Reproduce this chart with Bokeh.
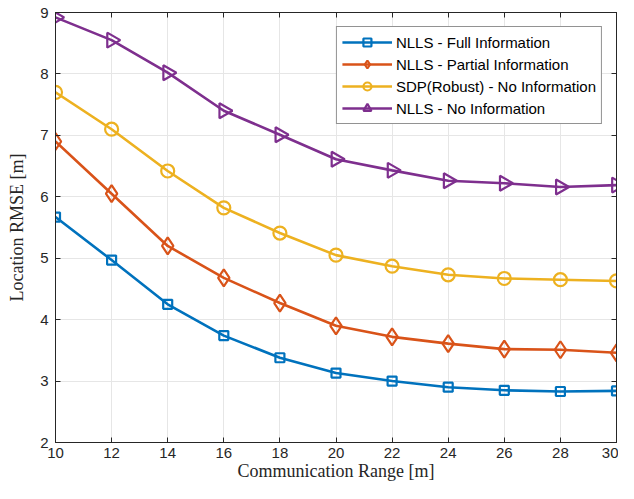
import numpy as np
from bokeh.plotting import figure
from bokeh.models import LinearAxis, Range1d, FixedTicker, Legend
from bokeh.embed import file_html
from bokeh.resources import INLINE

x_range_vals = [10, 12, 14, 16, 18, 20, 22, 24, 26, 28, 30]
full_info = [5.67, 4.97, 4.25, 3.74, 3.38, 3.13, 3.00, 2.90, 2.85, 2.83, 2.84]
partial_info = [6.90, 6.05, 5.20, 4.68, 4.27, 3.90, 3.72, 3.61, 3.52, 3.51, 3.46]
sdp_no_info = [7.70, 7.10, 6.42, 5.82, 5.41, 5.05, 4.87, 4.73, 4.67, 4.65, 4.63]
nlls_no_info = [8.92, 8.55, 8.02, 7.40, 7.01, 6.61, 6.43, 6.26, 6.22, 6.16, 6.19]

x_ticks = [10, 12, 14, 16, 18, 20, 22, 24, 26, 28, 30]
y_ticks = [2, 3, 4, 5, 6, 7, 8, 9]

p = figure(width=618, height=483, output_backend="svg", toolbar_location=None,
           x_range=Range1d(10, 30), y_range=Range1d(2, 9),
           min_border_left=55, min_border_right=2, min_border_top=12, min_border_bottom=38)
p.background_fill_color = "white"
p.outline_line_color = "#262626"
p.outline_line_width = 1

for ax in (p.xaxis[0], p.yaxis[0]):
    ax.major_tick_in = 5
    ax.major_tick_out = 0
    ax.minor_tick_in = 0
    ax.minor_tick_out = 0
    ax.axis_line_color = "#262626"
    ax.major_tick_line_color = "#262626"
    ax.major_label_text_font = "Liberation Sans"
    ax.major_label_text_font_size = "15px"
    ax.major_label_text_color = "#262626"
    ax.axis_label_text_font = "Liberation Serif"
    ax.axis_label_text_font_style = "normal"
    ax.axis_label_text_font_size = "18px"
    ax.axis_label_text_color = "#262626"

p.xaxis[0].ticker = FixedTicker(ticks=x_ticks)
p.yaxis[0].ticker = FixedTicker(ticks=y_ticks)
p.xaxis[0].axis_label = "Communication Range [m]"
p.yaxis[0].axis_label = "Location RMSE [m]"
p.xaxis[0].major_label_standoff = 5
p.xaxis[0].axis_label_standoff = 0
p.yaxis[0].major_label_standoff = 7
p.yaxis[0].axis_label_standoff = 10

p.xgrid.ticker = FixedTicker(ticks=x_ticks)
p.ygrid.ticker = FixedTicker(ticks=y_ticks)
p.xgrid.grid_line_color = "#e6e6e6"
p.ygrid.grid_line_color = "#e6e6e6"
p.xgrid.grid_line_width = 1
p.ygrid.grid_line_width = 1

# top and right axes (ticks only)
top = LinearAxis(ticker=FixedTicker(ticks=x_ticks), major_label_text_font_size="0px",
                 major_tick_in=5, major_tick_out=0, minor_tick_in=0, minor_tick_out=0,
                 axis_line_color="#262626", major_tick_line_color="#262626")
right = LinearAxis(ticker=FixedTicker(ticks=y_ticks), major_label_text_font_size="0px",
                   major_tick_in=5, major_tick_out=0, minor_tick_in=0, minor_tick_out=0,
                   axis_line_color="#262626", major_tick_line_color="#262626")
top.major_label_standoff = 0
right.major_label_standoff = 0
p.add_layout(top, "above")
p.add_layout(right, "right")

series = [
    ("NLLS - Full Information", full_info, "#0072BD", "square", 9, 0.0),
    ("NLLS - Partial Information", partial_info, "#D95319", "diamond", 17, 0.0),
    ("SDP(Robust) - No Information", sdp_no_info, "#EDB120", "circle", 13, 0.0),
    ("NLLS - No Information", nlls_no_info, "#7E2F8E", "triangle", 15, -np.pi / 2),
]

items = []
for label, ys, color, marker, size, angle in series:
    r1 = p.line(x_range_vals, ys, line_color=color, line_width=2.6)
    r2 = p.scatter(x_range_vals, ys, marker=marker, size=size, angle=angle,
                   line_color=color, line_width=2.2, fill_color=None)
    items.append((label, [r1, r2]))

legend = Legend(items=items, location="top_right")
legend.label_text_font = "Liberation Sans"
legend.label_text_font_size = "15px"
legend.label_text_color = "#000000"
legend.border_line_color = "#262626"
legend.border_line_width = 1
legend.background_fill_color = "white"
legend.background_fill_alpha = 1
legend.glyph_width = 50
legend.glyph_height = 20
legend.label_standoff = 4
legend.spacing = 2
legend.padding = 5
legend.margin = 14
legend.label_height = 20
p.add_layout(legend, "center")

open("out.html", "w").write(file_html(p, INLINE))
